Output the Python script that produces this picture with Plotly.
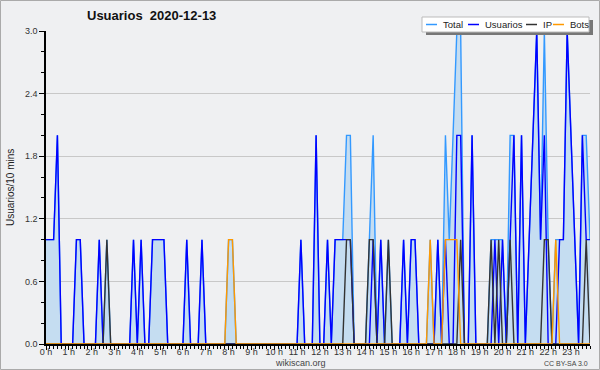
import plotly.graph_objects as go

# 10-minute slots, 144 per day (index / 6 = hour)
hours = list(range(24))
hour_labels = [f"{h} h" for h in hours]
y_ticks = [0.0, 0.6, 1.2, 1.8, 2.4, 3.0]
y_labels = ["0.0", "0.6", "1.2", "1.8", "2.4", "3.0"]

usuarios = [
    1, 1, 1, 2, 0, 0, 0, 0, 1, 1, 0, 0,
    0, 0, 1, 0, 0, 0, 0, 0, 0, 0, 0, 1,
    0, 1, 0, 0, 1, 1, 1, 1, 0, 0, 0, 0,
    0, 1, 0, 0, 0, 1, 0, 0, 0, 0, 0, 0,
    0, 0, 0, 0, 0, 0, 0, 0, 0, 0, 0, 0,
    0, 0, 0, 0, 0, 0, 0, 1, 0, 0, 0, 2,
    0, 0, 1, 0, 1, 1, 1, 1, 1, 0, 0, 0,
    0, 0, 1, 0, 1, 0, 0, 0, 0, 0, 1, 0,
    1, 1, 0, 0, 0, 0, 0, 1, 0, 1, 0, 0,
    2, 2, 0, 0, 2, 0, 0, 0, 0, 0, 1, 0,
    1, 0, 1, 2, 0, 2, 0, 1, 2, 3, 1, 2,
    0, 0, 0, 1, 1, 3, 2, 1, 0, 2, 1, 1,
]
ip = [
    0, 0, 0, 0, 0, 0, 0, 0, 0, 0, 0, 0,
    0, 0, 0, 0, 1, 0, 0, 0, 0, 0, 0, 0,
    0, 0, 0, 0, 0, 0, 0, 0, 0, 0, 0, 0,
    0, 0, 0, 0, 0, 0, 0, 0, 0, 0, 0, 0,
    0, 0, 0, 0, 0, 0, 0, 0, 0, 0, 0, 0,
    0, 0, 0, 0, 0, 0, 0, 0, 0, 0, 0, 0,
    0, 0, 0, 0, 0, 0, 0, 1, 1, 0, 0, 0,
    0, 1, 1, 0, 0, 0, 1, 0, 0, 0, 0, 0,
    0, 0, 0, 0, 0, 0, 0, 0, 0, 0, 0, 0,
    0, 1, 0, 0, 0, 0, 0, 0, 0, 1, 0, 1,
    0, 0, 1, 0, 0, 0, 0, 0, 0, 0, 0, 1,
    1, 0, 0, 0, 0, 0, 0, 0, 0, 0, 1, 0,
]
bots = [
    0, 0, 0, 0, 0, 0, 0, 0, 0, 0, 0, 0,
    0, 0, 0, 0, 0, 0, 0, 0, 0, 0, 0, 0,
    0, 0, 0, 0, 0, 0, 0, 0, 0, 0, 0, 0,
    0, 0, 0, 0, 0, 0, 0, 0, 0, 0, 0, 0,
    1, 1, 0, 0, 0, 0, 0, 0, 0, 0, 0, 0,
    0, 0, 0, 0, 0, 0, 0, 0, 0, 0, 0, 0,
    0, 0, 0, 0, 0, 0, 0, 0, 0, 0, 0, 0,
    0, 0, 0, 0, 0, 0, 0, 0, 0, 0, 0, 0,
    0, 0, 0, 0, 0, 1, 0, 0, 0, 1, 1, 1,
    1, 0, 0, 0, 0, 0, 0, 0, 0, 0, 0, 0,
    0, 0, 0, 0, 0, 0, 0, 0, 0, 0, 0, 0,
    0, 0, 1, 0, 0, 0, 0, 0, 0, 0, 0, 0,
]
total = [
    1, 1, 1, 2, 0, 0, 0, 0, 1, 1, 0, 0,
    0, 0, 1, 0, 1, 0, 0, 0, 0, 0, 0, 1,
    0, 1, 0, 0, 1, 1, 1, 1, 0, 0, 0, 0,
    0, 1, 0, 0, 0, 1, 0, 0, 0, 0, 0, 0,
    1, 1, 0, 0, 0, 0, 0, 0, 0, 0, 0, 0,
    0, 0, 0, 0, 0, 0, 0, 1, 0, 0, 0, 2,
    0, 0, 1, 0, 1, 1, 1, 2, 2, 0, 0, 0,
    0, 1, 2, 0, 1, 0, 1, 0, 0, 0, 1, 0,
    1, 1, 0, 0, 0, 1, 0, 1, 0, 2, 1, 2,
    3, 3, 0, 0, 2, 0, 0, 0, 0, 1, 1, 1,
    1, 0, 2, 2, 0, 2, 0, 1, 2, 3, 1, 3,
    1, 0, 1, 1, 1, 3, 2, 1, 0, 2, 2, 1,
]

slots = [i / 6 for i in range(len(total))]

W, H = 600, 370
ML, MR, MT, MB = 46, 10, 31, 26
PW, PH = W - ML - MR, H - MT - MB


def px(x):
    return (x - ML) / PW


def py(y):
    return (H - MB - y) / PH


FONT = "Liberation Sans, Arial, sans-serif"
BG = "#eff0f2"

fig = go.Figure()
fig.add_trace(go.Scatter(x=slots, y=total, mode="lines", name="Total",
                         line=dict(color="#3399ff", width=1.4),
                         fill="tozeroy", fillcolor="#c5ddf1"))
fig.add_trace(go.Scatter(x=slots, y=usuarios, mode="lines", name="Usuarios",
                         line=dict(color="#0000ff", width=1.4)))
fig.add_trace(go.Scatter(x=slots, y=ip, mode="lines", name="IP",
                         line=dict(color="#333333", width=1.4)))
fig.add_trace(go.Scatter(x=slots, y=bots, mode="lines", name="Bots",
                         line=dict(color="#ff9900", width=1.4)))

shapes = [
    # outer border
    dict(type="rect", xref="paper", yref="paper", x0=px(0.5), x1=px(W - 0.5),
         y0=py(H - 0.5), y1=py(0.5), line=dict(color="#aaaaaa", width=1)),
    # legend shadow
    dict(type="rect", xref="paper", yref="paper", x0=px(426), x1=px(593),
         y0=py(35), y1=py(20), fillcolor="#777777", line=dict(width=0)),
    # legend box
    dict(type="rect", xref="paper", yref="paper", x0=px(422), x1=px(589),
         y0=py(32), y1=py(17), fillcolor="#ffffff",
         line=dict(color="#bbbbbb", width=1)),
]
legend_items = [("Total", "#3399ff", 426, 437, 442),
                ("Usuarios", "#0000ff", 468, 479, 484),
                ("IP", "#333333", 526, 537, 542),
                ("Bots", "#ff9900", 553, 564, 569)]
annotations = []
for name, col, l0, l1, tx in legend_items:
    shapes.append(dict(type="line", xref="paper", yref="paper",
                       x0=px(l0), x1=px(l1), y0=py(24.5), y1=py(24.5),
                       line=dict(color=col, width=1.5)))
    annotations.append(dict(text=name, xref="paper", yref="paper", x=px(tx),
                            y=py(24.5), xanchor="left", yanchor="middle",
                            showarrow=False, borderpad=0,
                            font=dict(family=FONT, size=9.5, color="#222")))

annotations += [
    dict(text="<b>Usuarios\u00a0\u00a02020-12-13</b>", xref="paper", yref="paper",
         x=px(151), y=py(16), xanchor="center", yanchor="middle",
         showarrow=False, font=dict(family=FONT, size=13, color="#111")),
    dict(text="Usuarios/10 mins", xref="paper", yref="paper", x=px(10),
         y=py(188), xanchor="center", yanchor="middle", textangle=-90,
         showarrow=False, font=dict(family=FONT, size=10, color="#222")),
    dict(text="wikiscan.org", xref="paper", yref="paper", x=px(300),
         y=py(362.5), xanchor="center", yanchor="middle", showarrow=False,
         borderpad=0, font=dict(family=FONT, size=9, color="#444")),
    dict(text="CC BY-SA 3.0", xref="paper", yref="paper", x=px(589),
         y=py(363), xanchor="right", yanchor="middle", showarrow=False,
         borderpad=0, font=dict(family=FONT, size=7, color="#444")),
]

fig.update_layout(
    width=W, height=H,
    margin=dict(l=ML, r=MR, t=MT, b=MB, autoexpand=False),
    paper_bgcolor=BG, plot_bgcolor=BG,
    showlegend=False,
    shapes=shapes, annotations=annotations,
    xaxis=dict(range=[0, slots[-1]], tickvals=hours, ticktext=hour_labels,
               automargin=False,
               ticks="outside", ticklen=4, tickcolor="#000", tickwidth=1,
               ticklabelstandoff=-6,
               minor=dict(dtick=1 / 6, tick0=0, ticks="outside", ticklen=3,
                          tickcolor="#000", showgrid=False),
               showgrid=False, zeroline=False, showline=True,
               linecolor="#000", linewidth=1.5,
               tickfont=dict(family=FONT, size=9, color="#333")),
    yaxis=dict(range=[0, 3.0], tickvals=y_ticks, ticktext=y_labels,
               automargin=False,
               ticks="outside", ticklen=5, tickcolor="#000", tickwidth=1,
               minor=dict(dtick=0.2, tick0=0, ticks="outside", ticklen=3,
                          tickcolor="#000", showgrid=False),
               showgrid=True, gridcolor="#c8c8c8", gridwidth=1,
               zeroline=False, showline=True, linecolor="#000", linewidth=1.5,
               tickfont=dict(family=FONT, size=9, color="#333")),
)

fig.write_html("out.html")
